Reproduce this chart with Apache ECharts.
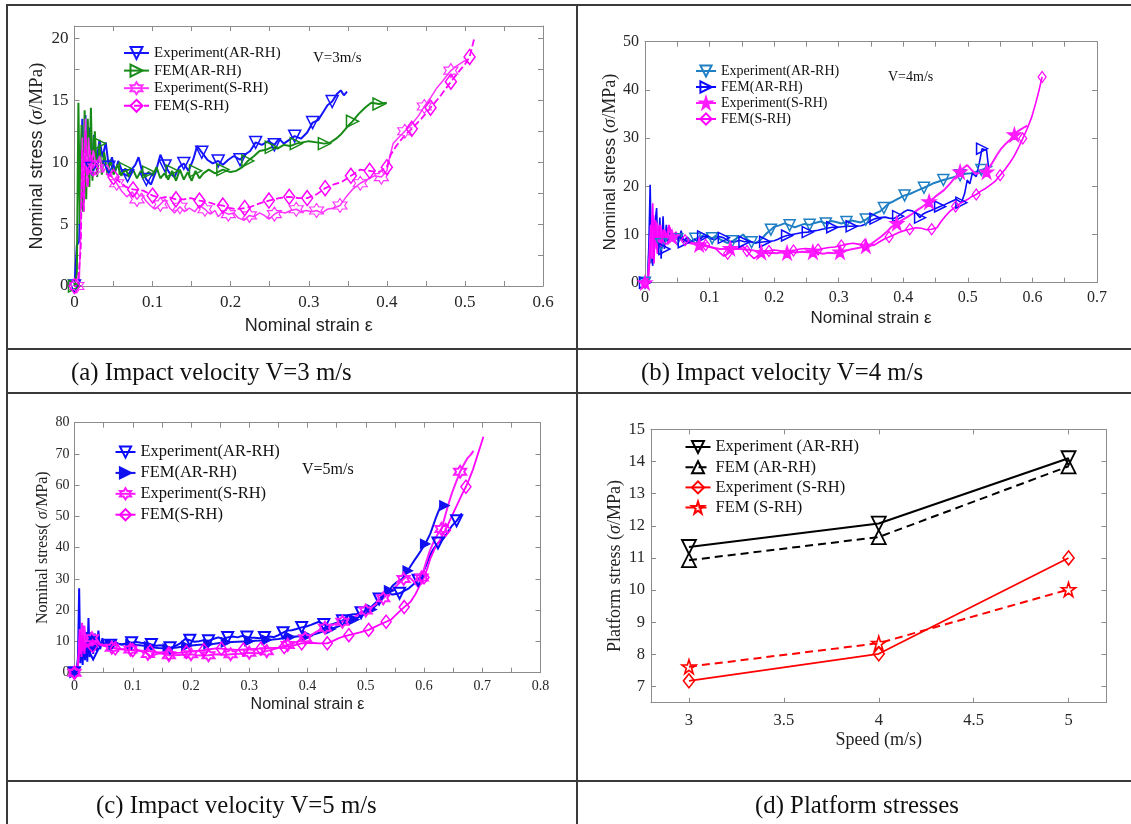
<!DOCTYPE html>
<html>
<head>
<meta charset="utf-8">
<script src="https://cdn.jsdelivr.net/npm/echarts@6/dist/echarts.min.js"></script>
<style>
body { margin: 0; background: #fff; }
.chart { position: absolute; left: 0; top: 0; width: 1131px; height: 824px; }
.ln { position: absolute; background: #3a3a3a; }
.cap { position: absolute; font-family: 'Liberation Serif'; font-size: 24.8px; color: #111; white-space: nowrap; line-height: 24px; }
</style>
</head>
<body>
<div class="ln" style="left:6px;top:4px;width:1125px;height:2px"></div>
<div class="ln" style="left:6px;top:348px;width:1125px;height:2px"></div>
<div class="ln" style="left:6px;top:392px;width:1125px;height:2px"></div>
<div class="ln" style="left:6px;top:780px;width:1125px;height:2px"></div>
<div class="ln" style="left:6px;top:4px;width:2px;height:820px"></div>
<div class="ln" style="left:576px;top:4px;width:2px;height:820px"></div>

<div class="chart" id="chartA"></div>
<div class="chart" id="chartB"></div>
<div class="chart" id="chartC"></div>
<div class="chart" id="chartD"></div>

<div class="cap" style="left:71px;top:360px">(a) Impact velocity V=3 m/s</div>
<div class="cap" style="left:641px;top:360px">(b) Impact velocity V=4 m/s</div>
<div class="cap" style="left:96px;top:793px">(c) Impact velocity V=5 m/s</div>
<div class="cap" style="left:755px;top:793px">(d) Platform stresses</div>

<script>
var SERIF = 'Liberation Serif', SANS = 'Liberation Sans';
var AXIS = '#8c8c8c';

// ---- (a) V=3 m/s : [strain, stress]
var expAR_a = [[0,0],[0.003,3.3],[0.006,3.6],[0.008,9],[0.01,13.5],[0.012,7.5],[0.014,13.8],[0.016,8.5],[0.019,12.8],[0.022,9.5],[0.025,12.2],[0.028,10],[0.032,11.8],[0.036,10.4],[0.04,11.6],[0.044,9.6],[0.048,10.4],[0.052,9.2],[0.056,10.1],[0.062,9.1],[0.068,8.9],[0.072,9.3],[0.078,9.8],[0.082,10.4],[0.086,9.4],[0.092,8.6],[0.098,8.2],[0.104,9.2],[0.11,10.6],[0.116,9.7],[0.122,9.1],[0.128,8.8],[0.134,9.6],[0.14,9.9],[0.146,9.3],[0.152,10.2],[0.157,11.3],[0.163,10.8],[0.17,10.2],[0.177,9.9],[0.184,10.1],[0.19,9.8],[0.197,10.2],[0.204,10.5],[0.212,10.2],[0.218,10.6],[0.225,10.9],[0.232,11.6],[0.24,11.4],[0.248,11.7],[0.256,11.4],[0.262,11.9],[0.268,11.5],[0.275,11.8],[0.282,12.1],[0.29,11.9],[0.298,12.4],[0.305,13.2],[0.312,13.4],[0.318,14.0],[0.324,14.6],[0.33,14.9],[0.336,15.5],[0.341,15.8],[0.345,15.4],[0.349,15.7]];
var femAR_a = [[0,0],[0.003,1],[0.005,14.8],[0.007,5],[0.009,13],[0.011,6],[0.013,14.2],[0.015,7],[0.017,13.5],[0.019,8],[0.021,14.4],[0.023,8.5],[0.026,12.5],[0.029,8.8],[0.032,11.5],[0.035,9],[0.038,10.8],[0.042,9.1],[0.046,10.2],[0.05,9],[0.055,9.8],[0.06,8.9],[0.065,9.5],[0.07,8.8],[0.075,9.4],[0.08,8.7],[0.085,9.3],[0.09,8.9],[0.095,9.2],[0.1,8.9],[0.105,9.6],[0.11,8.7],[0.115,9.1],[0.12,8.6],[0.125,9.3],[0.13,8.5],[0.135,9.4],[0.14,8.6],[0.145,9.2],[0.15,8.5],[0.155,9.3],[0.16,8.7],[0.165,9.1],[0.172,9.4],[0.18,9.1],[0.19,9.4],[0.2,9.2],[0.207,9.3],[0.215,9.6],[0.222,10.1],[0.23,10.5],[0.237,10.9],[0.245,11.0],[0.252,11.2],[0.26,11.1],[0.268,11.4],[0.276,11.3],[0.284,11.5],[0.292,11.6],[0.3,11.7],[0.31,11.6],[0.32,11.5],[0.328,11.6],[0.335,11.9],[0.342,12.3],[0.35,12.9],[0.356,13.3],[0.364,13.9],[0.372,14.4],[0.38,14.8],[0.39,14.7],[0.4,14.8]];
var expS_a = [[0.003,0],[0.006,0],[0.008,5],[0.01,12],[0.012,7],[0.014,13.5],[0.016,8],[0.018,12],[0.021,9],[0.024,11],[0.028,9.5],[0.032,10.5],[0.037,9.2],[0.042,9.8],[0.048,8.8],[0.054,8.3],[0.06,7.7],[0.067,7.2],[0.074,7.6],[0.08,7.0],[0.086,7.5],[0.091,6.9],[0.097,6.5],[0.103,6.2],[0.11,6.6],[0.116,7.0],[0.122,6.3],[0.128,5.9],[0.135,6.4],[0.141,6.0],[0.147,6.3],[0.154,6.0],[0.16,6.5],[0.167,6.2],[0.174,5.8],[0.18,6.1],[0.184,5.6],[0.19,6.0],[0.197,5.8],[0.204,5.9],[0.21,5.5],[0.217,5.3],[0.224,5.7],[0.23,5.6],[0.237,5.9],[0.243,5.7],[0.249,5.4],[0.256,5.8],[0.262,6.0],[0.27,5.9],[0.277,6.1],[0.284,6.2],[0.29,6.0],[0.297,6.1],[0.304,6.0],[0.31,6.1],[0.317,5.9],[0.324,6.2],[0.332,6.3],[0.34,6.5],[0.348,7.2],[0.356,7.8],[0.366,8.3],[0.375,8.6],[0.384,8.9],[0.393,8.8],[0.4,9.3],[0.404,10.5],[0.408,11.5],[0.415,12.0],[0.423,12.5],[0.431,13.0],[0.44,13.7],[0.448,14.5],[0.456,15.2],[0.464,16.0],[0.472,16.6],[0.482,17.4],[0.49,17.8],[0.5,18.2],[0.505,18.0]];
var femS_a = [[0,0],[0.004,0],[0.008,3],[0.01,11],[0.012,6],[0.014,12.5],[0.017,8],[0.02,11],[0.024,9.5],[0.03,10.2],[0.036,9.3],[0.042,9.0],[0.05,8.8],[0.058,8.4],[0.066,8.0],[0.075,7.8],[0.088,7.7],[0.1,7.3],[0.11,7.1],[0.119,7.2],[0.13,7.0],[0.14,7.0],[0.149,7.1],[0.16,6.9],[0.17,6.8],[0.18,6.6],[0.19,6.5],[0.198,6.3],[0.208,6.2],[0.218,6.3],[0.226,6.4],[0.238,6.7],[0.249,6.9],[0.262,7.1],[0.275,7.2],[0.287,7.1],[0.298,7.1],[0.31,7.4],[0.321,7.9],[0.332,8.2],[0.342,8.4],[0.354,8.9],[0.366,9.4],[0.378,9.3],[0.39,9.2],[0.4,9.6],[0.405,10.6],[0.412,11.3],[0.422,12.1],[0.432,12.7],[0.444,13.5],[0.456,14.4],[0.468,15.3],[0.482,16.5],[0.492,17.3],[0.5,17.9],[0.506,18.5],[0.512,20.0]];

// ---- (b) V=4 m/s
var expAR_b = [[0,0],[0.004,0.5],[0.007,8],[0.009,4],[0.011,13],[0.013,6],[0.016,12],[0.019,7],[0.022,11.5],[0.025,8],[0.028,11],[0.032,8.5],[0.036,10.5],[0.04,9],[0.045,10],[0.05,9],[0.055,9.6],[0.06,8.8],[0.066,9.3],[0.072,8.6],[0.078,9.1],[0.085,9.4],[0.092,10.0],[0.098,9.6],[0.104,9.2],[0.11,9.8],[0.116,9.0],[0.122,8.6],[0.128,8.2],[0.135,8.6],[0.142,9.2],[0.148,9.6],[0.152,10.0],[0.158,9.0],[0.165,8.4],[0.172,8.2],[0.18,9.0],[0.188,10.2],[0.195,11.0],[0.2,11.6],[0.208,11.9],[0.216,12.3],[0.224,11.9],[0.232,11.5],[0.24,11.9],[0.247,12.2],[0.255,12.0],[0.263,12.4],[0.272,12.7],[0.28,12.3],[0.288,12.8],[0.296,12.6],[0.304,12.3],[0.312,12.6],[0.32,12.9],[0.327,12.7],[0.334,12.5],[0.342,13.1],[0.35,13.8],[0.357,14.4],[0.364,14.8],[0.37,15.5],[0.377,16.4],[0.385,16.9],[0.393,17.5],[0.402,18.1],[0.41,18.4],[0.418,18.9],[0.425,19.3],[0.432,19.7],[0.44,20.2],[0.448,20.7],[0.455,21.0],[0.462,21.3],[0.47,21.6],[0.478,21.9],[0.488,22.3],[0.496,22.6],[0.505,22.7],[0.512,23.0],[0.521,23.4],[0.53,23.8],[0.538,24.2]];
var femAR_b = [[0,0],[0.004,0],[0.006,8],[0.008,20.3],[0.01,6],[0.012,3.5],[0.015,12],[0.018,15.5],[0.02,6],[0.023,13.5],[0.025,5],[0.028,13.8],[0.03,7],[0.033,12],[0.036,8],[0.04,11],[0.044,8.5],[0.048,10.5],[0.052,8.6],[0.056,10.8],[0.06,8.4],[0.065,9.5],[0.07,8.2],[0.076,9.0],[0.082,8.6],[0.09,9.6],[0.096,9.5],[0.102,9.1],[0.108,8.9],[0.115,9.6],[0.122,9.3],[0.13,8.6],[0.138,8.4],[0.146,8.8],[0.154,8.5],[0.162,8.6],[0.17,8.3],[0.178,8.4],[0.186,8.5],[0.194,8.6],[0.2,8.7],[0.206,9.0],[0.213,9.5],[0.22,9.8],[0.228,10.0],[0.236,10.2],[0.244,10.4],[0.252,10.5],[0.26,10.7],[0.268,10.9],[0.274,11.1],[0.282,11.3],[0.29,11.5],[0.298,11.5],[0.305,11.6],[0.313,11.7],[0.32,11.7],[0.327,11.75],[0.335,11.8],[0.342,12.2],[0.35,12.9],[0.357,13.3],[0.364,13.5],[0.372,13.6],[0.378,13.4],[0.385,13.3],[0.392,13.8],[0.4,14.6],[0.407,15.1],[0.414,14.9],[0.42,14.4],[0.426,13.5],[0.43,14.2],[0.436,14.6],[0.443,15.0],[0.45,15.4],[0.457,15.8],[0.464,16.2],[0.472,16.7],[0.482,17.3],[0.49,16.6],[0.495,18.5],[0.499,21.3],[0.503,20.5],[0.507,22.7],[0.513,22.0],[0.518,25.0],[0.522,27.8],[0.525,28.2],[0.529,27.5],[0.532,24.0]];
var expS_b = [[0,0],[0.004,0],[0.007,6],[0.009,12],[0.011,5],[0.013,14],[0.015,7],[0.018,12.5],[0.021,8],[0.024,12],[0.027,8.5],[0.03,11],[0.034,9],[0.038,11.5],[0.042,9.5],[0.047,9.8],[0.052,8.8],[0.058,9.2],[0.064,8.4],[0.07,8.2],[0.077,8.0],[0.084,7.9],[0.092,7.6],[0.1,7.4],[0.108,7.2],[0.116,7.0],[0.124,7.0],[0.132,7.1],[0.14,7.0],[0.148,7.0],[0.156,6.9],[0.164,6.8],[0.172,6.6],[0.18,6.3],[0.188,6.1],[0.196,6.2],[0.204,6.1],[0.212,6.3],[0.22,6.2],[0.228,6.3],[0.236,6.3],[0.244,6.4],[0.252,6.3],[0.26,6.4],[0.268,6.2],[0.276,6.0],[0.284,6.2],[0.294,6.1],[0.302,6.4],[0.31,6.6],[0.318,6.9],[0.326,7.1],[0.334,7.3],[0.342,7.6],[0.35,8.0],[0.358,8.8],[0.366,9.6],[0.374,10.5],[0.382,11.6],[0.39,12.3],[0.398,13.0],[0.406,13.6],[0.414,14.3],[0.421,15.0],[0.43,15.8],[0.44,16.8],[0.45,17.9],[0.463,19.2],[0.472,20.5],[0.48,21.8],[0.488,23.0],[0.494,23.9],[0.499,24.4],[0.505,23.5],[0.512,22.6],[0.52,22.8],[0.529,23.0],[0.537,24.7],[0.545,26.5],[0.551,27.7],[0.557,28.6],[0.565,29.6],[0.572,30.7],[0.576,31.3],[0.582,31.8],[0.588,32.3],[0.592,32.6]];
var femS_b = [[0,0],[0.005,0],[0.008,6],[0.01,11],[0.012,16.5],[0.014,4],[0.016,13],[0.019,6],[0.022,12],[0.025,7.5],[0.028,11],[0.032,9],[0.037,12],[0.042,9.6],[0.048,10.5],[0.055,9.0],[0.062,8.8],[0.07,8.4],[0.078,8.1],[0.086,7.8],[0.094,7.8],[0.102,7.4],[0.11,7.0],[0.116,6.2],[0.122,5.5],[0.128,6.0],[0.136,6.8],[0.144,7.2],[0.152,7.5],[0.158,6.6],[0.164,5.6],[0.169,5.0],[0.176,5.8],[0.184,6.4],[0.192,6.6],[0.2,6.8],[0.21,6.6],[0.22,6.5],[0.23,6.7],[0.24,7.0],[0.249,7.1],[0.258,7.0],[0.268,6.9],[0.276,7.1],[0.285,7.3],[0.294,7.4],[0.304,7.7],[0.313,8.0],[0.322,8.2],[0.33,8.0],[0.34,7.8],[0.348,7.7],[0.355,7.8],[0.362,8.4],[0.37,9.0],[0.378,9.5],[0.385,9.9],[0.393,10.4],[0.401,10.8],[0.41,11.1],[0.419,11.4],[0.428,11.3],[0.436,11.0],[0.444,11.1],[0.452,11.4],[0.458,12.6],[0.465,13.8],[0.472,14.8],[0.481,15.8],[0.49,16.6],[0.5,17.3],[0.506,17.9],[0.513,18.3],[0.52,19.0],[0.528,19.6],[0.535,20.3],[0.542,21.0],[0.55,22.3],[0.558,23.6],[0.565,24.9],[0.571,26.1],[0.578,27.9],[0.585,29.9],[0.592,32.0],[0.599,34.4],[0.605,37.2],[0.61,39.8],[0.615,42.7]];

// ---- (c) V=5 m/s
var expAR_c = [[0,0],[0.004,0.5],[0.006,5],[0.008,27],[0.01,3],[0.012,14],[0.014,2.5],[0.016,15],[0.018,4],[0.02,13],[0.022,3.5],[0.024,17.5],[0.026,5],[0.029,13],[0.032,6],[0.035,12.5],[0.038,7],[0.041,13.5],[0.044,7.5],[0.048,11],[0.052,8.5],[0.057,10.5],[0.062,8.8],[0.068,10],[0.075,9.3],[0.082,9.0],[0.09,9.4],[0.098,9.6],[0.106,9.8],[0.114,9.6],[0.12,9.5],[0.125,9.4],[0.132,9.0],[0.14,8.6],[0.148,8.8],[0.156,8.4],[0.164,8.0],[0.172,8.4],[0.18,9.2],[0.19,10.8],[0.198,10.4],[0.206,9.9],[0.214,10.1],[0.222,10.4],[0.23,10.2],[0.238,10.8],[0.247,11.3],[0.255,10.8],[0.263,11.3],[0.272,11.6],[0.28,11.3],[0.288,11.8],[0.296,11.4],[0.304,11.2],[0.309,11.2],[0.318,11.0],[0.326,11.3],[0.334,11.6],[0.342,11.4],[0.35,12.0],[0.358,12.8],[0.365,13.5],[0.373,13.6],[0.381,14.0],[0.39,14.5],[0.398,14.8],[0.406,15.3],[0.414,15.9],[0.42,16.3],[0.428,15.4],[0.436,15.2],[0.444,15.6],[0.452,16.1],[0.46,16.6],[0.468,18.2],[0.476,18.6],[0.484,18.8],[0.492,19.2],[0.5,19.8],[0.508,20.8],[0.516,22.2],[0.523,23.6],[0.53,24.9],[0.538,25.3],[0.546,25.0],[0.552,25.2],[0.558,25.4],[0.566,26.2],[0.574,27.0],[0.582,28.3],[0.59,29.6],[0.597,31.5],[0.604,34.5],[0.61,37.5],[0.617,39.8],[0.624,41.5],[0.633,42.8],[0.641,45.0],[0.648,47.0],[0.656,48.6],[0.665,51.0]];
var femAR_c = [[0,0],[0.004,0],[0.007,6],[0.009,12],[0.011,4],[0.013,11],[0.015,5],[0.018,13],[0.021,6],[0.024,11.5],[0.027,7],[0.03,11],[0.034,8],[0.038,10.5],[0.042,8.5],[0.047,10],[0.052,8.8],[0.058,9.6],[0.065,9.0],[0.072,9.3],[0.08,9.0],[0.088,9.2],[0.096,9.0],[0.104,8.9],[0.112,8.8],[0.12,8.6],[0.128,8.4],[0.136,8.1],[0.144,7.9],[0.152,7.8],[0.16,7.7],[0.168,7.9],[0.176,8.1],[0.184,8.3],[0.192,8.5],[0.2,8.7],[0.21,8.9],[0.22,9.0],[0.23,9.2],[0.24,9.3],[0.25,9.5],[0.26,9.7],[0.27,9.8],[0.28,9.9],[0.29,10.0],[0.3,10.1],[0.31,10.2],[0.32,10.3],[0.33,10.5],[0.34,10.6],[0.35,10.8],[0.36,11.1],[0.37,11.4],[0.38,11.6],[0.39,11.7],[0.4,11.8],[0.41,12.2],[0.42,12.8],[0.43,13.5],[0.44,14.0],[0.45,14.6],[0.46,15.3],[0.47,16.1],[0.48,17.0],[0.49,18.0],[0.5,19.0],[0.51,20.2],[0.518,21.6],[0.526,23.2],[0.534,24.8],[0.54,26.3],[0.546,27.8],[0.552,28.8],[0.56,29.6],[0.566,30.8],[0.572,32.6],[0.578,34.4],[0.584,36.1],[0.59,37.7],[0.596,39.4],[0.602,41.2],[0.607,43.0],[0.611,44.6],[0.616,47.2],[0.621,49.9],[0.626,52.2],[0.63,54.2],[0.635,53.5]];
var expS_c = [[0,0],[0.004,0],[0.007,5],[0.009,14],[0.011,6],[0.013,16],[0.015,7],[0.017,15],[0.02,8],[0.023,12.5],[0.026,8.5],[0.03,11],[0.034,9],[0.038,10.5],[0.043,9.2],[0.05,8.8],[0.057,8.2],[0.064,8.0],[0.072,7.8],[0.08,7.6],[0.088,7.5],[0.096,7.4],[0.104,7.3],[0.112,7.0],[0.12,6.6],[0.126,6.0],[0.131,5.1],[0.138,5.8],[0.146,6.2],[0.154,6.0],[0.162,5.6],[0.17,5.6],[0.18,5.7],[0.19,5.8],[0.2,5.9],[0.21,5.6],[0.22,5.5],[0.23,5.6],[0.24,5.8],[0.25,5.9],[0.259,5.7],[0.268,5.9],[0.276,6.0],[0.284,6.1],[0.292,6.3],[0.3,6.4],[0.308,6.3],[0.315,6.2],[0.322,6.5],[0.33,6.9],[0.338,7.3],[0.346,7.7],[0.356,8.3],[0.366,8.9],[0.376,9.5],[0.386,10.2],[0.396,11.0],[0.405,11.9],[0.413,12.8],[0.421,13.7],[0.43,14.4],[0.44,15.1],[0.45,15.7],[0.46,16.3],[0.471,16.9],[0.48,17.8],[0.49,18.8],[0.5,19.9],[0.512,21.1],[0.52,22.3],[0.53,23.8],[0.54,25.6],[0.55,27.3],[0.558,28.8],[0.565,30.0],[0.571,30.7],[0.577,30.2],[0.583,29.0],[0.59,27.5],[0.596,30.5],[0.603,35.0],[0.61,39.0],[0.618,42.5],[0.624,44.5],[0.63,46.0],[0.636,50.0],[0.642,54.0],[0.648,57.5],[0.655,61.0],[0.662,64.3],[0.668,66.5],[0.674,68.5],[0.68,69.7],[0.685,71.0]];
var femS_c = [[0,0],[0.005,0],[0.008,8],[0.01,13],[0.012,5],[0.014,12],[0.017,6],[0.02,11.5],[0.023,7.5],[0.027,10.5],[0.031,8.5],[0.036,10],[0.042,9],[0.05,8.6],[0.06,8.2],[0.07,7.8],[0.08,7.5],[0.09,7.3],[0.1,7.2],[0.11,7.1],[0.12,7.0],[0.13,6.8],[0.14,6.6],[0.15,6.4],[0.162,6.2],[0.172,6.3],[0.182,6.4],[0.192,6.6],[0.202,6.8],[0.212,7.0],[0.222,7.2],[0.232,7.5],[0.243,7.8],[0.252,7.7],[0.262,7.5],[0.272,7.4],[0.281,7.3],[0.29,7.4],[0.3,7.5],[0.31,7.6],[0.32,7.7],[0.33,7.8],[0.34,7.9],[0.35,8.0],[0.36,8.2],[0.37,8.5],[0.38,8.9],[0.39,9.4],[0.4,9.5],[0.41,9.5],[0.42,9.4],[0.434,9.4],[0.444,10.2],[0.452,10.9],[0.46,11.5],[0.471,12.0],[0.48,12.4],[0.49,12.9],[0.505,13.7],[0.515,14.6],[0.525,15.5],[0.535,16.3],[0.543,16.9],[0.55,18.2],[0.558,19.6],[0.566,21.0],[0.577,22.7],[0.585,25.0],[0.593,28.0],[0.6,30.5],[0.606,33.5],[0.611,36.6],[0.618,39.5],[0.626,42.0],[0.637,45.7],[0.645,49.0],[0.655,53.0],[0.665,57.0],[0.672,59.5],[0.677,61.7],[0.684,65.0],[0.69,68.5],[0.696,72.0],[0.702,75.5]];

// ---- (d) platform stresses
var speeds = [3, 4, 5];
var platExpAR = [11.34, 12.07, 14.1];
var platFemAR = [10.93, 11.65, 13.85];
var platExpS = [7.18, 8.02, 11.0];
var platFemS = [7.62, 8.35, 10.02];

// tick lists
var ticksA_x = [0,0.05,0.1,0.15,0.2,0.25,0.3,0.35,0.4,0.45,0.5,0.55,0.6];
var labelsA_x = [0,0.1,0.2,0.3,0.4,0.5,0.6];
var ticksA_y = [0,2.5,5,7.5,10,12.5,15,17.5,20];
var labelsA_y = [0,5,10,15,20];
var ticksB_x = [0,0.05,0.1,0.15,0.2,0.25,0.3,0.35,0.4,0.45,0.5,0.55,0.6,0.65,0.7];
var labelsB_x = [0,0.1,0.2,0.3,0.4,0.5,0.6,0.7];
var labelsB_y = [0,10,20,30,40,50];
var ticksC_x = [0,0.05,0.1,0.15,0.2,0.25,0.3,0.35,0.4,0.45,0.5,0.55,0.6,0.65,0.7,0.75,0.8];
var labelsC_x = [0,0.1,0.2,0.3,0.4,0.5,0.6,0.7,0.8];
var labelsC_y = [0,10,20,30,40,50,60,70,80];
var labelsD_x = [3,3.5,4,4.5,5];
var labelsD_y = [7,8,9,10,11,12,13,14,15];

var HEX = 'path://M50,0 L64,25 L93,25 L79,50 L93,75 L64,75 L50,100 L36,75 L7,75 L21,50 L7,25 L36,25 Z';
var PENT = 'path://M50,2 L61,37 L98,37 L68,59 L79,95 L50,73 L21,95 L32,59 L2,37 L39,37 Z';

function markEvery(data, step) {
    var last = -Infinity;
    return data.map(function(p) {
        if (p[0] - last >= step) { last = p[0]; return p; }
        return { value: p, symbol: 'none' };
    });
}

function mkLine(name, data, o) {
    return {
        type: 'line', name: name,
        data: o.step ? markEvery(data, o.step) : data,
        symbol: o.symbol, symbolSize: o.size, symbolRotate: o.rot || 0,
        showSymbol: true, animation: false, silent: true,
        lineStyle: { color: o.color, width: o.lw || 1.8, type: o.dash || 'solid' },
        itemStyle: { color: o.fill || 'rgba(255,255,255,0)', borderColor: o.color, borderWidth: o.bw || 1.5 }
    };
}

function axis(min, max, ticks, labels, pos, fs, show) {
    return {
        type: 'value', min: min, max: max, position: pos,
        axisLine: { show: true, onZero: false, lineStyle: { color: AXIS, width: 1 } },
        axisTick: { show: true, inside: true, length: 5, customValues: ticks, lineStyle: { color: AXIS } },
        axisLabel: { show: show, customValues: labels, margin: 8, color: '#262626', fontFamily: SERIF, fontSize: fs },
        splitLine: { show: false }
    };
}

function legendFor(left, top, fs, iw, ih, gap, names) {
    return {
        orient: 'vertical', left: left, top: top, padding: 0,
        itemWidth: iw, itemHeight: ih, itemGap: gap, selectedMode: false,
        textStyle: { fontFamily: SERIF, fontSize: fs, color: '#111', lineHeight: fs },
        data: names
    };
}

function note(x, y, txt, fs) {
    return { type: 'text', left: x, top: y, silent: true,
             style: { text: txt, font: fs + 'px "Liberation Serif"', fill: '#111' } };
}

// ---------- panel (a)
var chartA = echarts.init(document.getElementById('chartA'));
var xa = axis(0, 0.6, ticksA_x, labelsA_x, 'bottom', 17, true);
xa.name = 'Nominal strain ε';
xa.nameLocation = 'middle'; xa.nameGap = 31;
xa.nameTextStyle = { fontFamily: SANS, fontSize: 18, color: '#222' };
var ya = axis(0, 21, ticksA_y, labelsA_y, 'left', 17, true);
ya.axisLabel.margin = 6;
ya.name = '{a|Nominal stress (}{s|σ}{b|/MPa)}';
ya.nameLocation = 'middle'; ya.nameGap = 28;
ya.nameTextStyle = { color: '#222', rich: {
    a: { fontFamily: SANS, fontSize: 18, color: '#222' },
    s: { fontFamily: SERIF, fontStyle: 'italic', fontSize: 19, color: '#222' },
    b: { fontFamily: SERIF, fontSize: 19, color: '#222' } } };
chartA.setOption({
    animation: false,
    grid: { left: 74.5, top: 26, width: 468.5, height: 260 },
    xAxis: [xa, axis(0, 0.6, ticksA_x, [], 'top', 17, false)],
    yAxis: [ya, axis(0, 21, ticksA_y, [], 'right', 17, false)],
    legend: legendFor(123, 45.5, 15, 25, 15, 2.6, ['Experiment(AR-RH)', 'FEM(AR-RH)', 'Experiment(S-RH)', 'FEM(S-RH)']),
    graphic: [note(313, 51, 'V=3m/s', 15)],
    series: [
        mkLine('Experiment(AR-RH)', expAR_a, { color: '#1414ff', symbol: 'triangle', rot: 180, size: 12, step: 0.02, lw: 2 }),
        mkLine('FEM(AR-RH)', femAR_a, { color: '#178a17', symbol: 'triangle', rot: -90, size: 12, step: 0.03, lw: 2 }),
        mkLine('Experiment(S-RH)', expS_a, { color: '#ff33ff', symbol: HEX, size: 14, step: 0.025, lw: 1.5, bw: 1.2 }),
        mkLine('FEM(S-RH)', femS_a, { color: '#ff00ff', symbol: 'diamond', size: [11, 15], step: 0.022, lw: 1.8, dash: [7, 3] })
    ]
});

// ---------- panel (b)
var chartB = echarts.init(document.getElementById('chartB'));
var xb = axis(0, 0.7, ticksB_x, labelsB_x, 'bottom', 16, true);
xb.axisLabel.margin = 7;
xb.name = 'Nominal strain ε';
xb.nameLocation = 'middle'; xb.nameGap = 27;
xb.nameTextStyle = { fontFamily: SANS, fontSize: 17, color: '#222' };
var yb = axis(0, 50, labelsB_y, labelsB_y, 'left', 16, true);
yb.axisLabel.margin = 6;
yb.name = '{a|Nominal stress (}{s|σ}{b|/MPa)}';
yb.nameLocation = 'middle'; yb.nameGap = 25;
yb.nameTextStyle = { color: '#222', rich: {
    a: { fontFamily: SANS, fontSize: 17, color: '#222' },
    s: { fontFamily: SERIF, fontStyle: 'italic', fontSize: 18, color: '#222' },
    b: { fontFamily: SERIF, fontSize: 18, color: '#222' } } };
chartB.setOption({
    animation: false,
    grid: { left: 645, top: 41.7, width: 452, height: 241 },
    xAxis: [xb, axis(0, 0.7, ticksB_x, [], 'top', 16, false)],
    yAxis: [yb, axis(0, 50, labelsB_y, [], 'right', 16, false)],
    legend: legendFor(695, 64, 14, 20, 14, 2, ['Experiment(AR-RH)', 'FEM(AR-RH)', 'Experiment(S-RH)', 'FEM(S-RH)']),
    graphic: [note(888, 70, 'V=4m/s', 14)],
    series: [
        mkLine('Experiment(AR-RH)', expAR_b, { color: '#1f7fc4', symbol: 'triangle', rot: 180, size: 11, step: 0.025, lw: 2 }),
        mkLine('FEM(AR-RH)', femAR_b, { color: '#0a0aff', symbol: 'triangle', rot: -90, size: 11, step: 0.03, lw: 1.6 }),
        mkLine('Experiment(S-RH)', expS_b, { color: '#ff1aff', fill: '#ff1aff', symbol: PENT, size: 13, step: 0.04, lw: 2 }),
        mkLine('FEM(S-RH)', femS_b, { color: '#ff00ff', symbol: 'diamond', size: [8, 11], step: 0.03, lw: 1.6, bw: 1.2 })
    ]
});

// ---------- panel (c)
var chartC = echarts.init(document.getElementById('chartC'));
var xc = axis(0, 0.8, ticksC_x, labelsC_x, 'bottom', 14, true);
xc.axisLabel.margin = 7;
xc.name = 'Nominal strain ε';
xc.nameLocation = 'middle'; xc.nameGap = 24;
xc.nameTextStyle = { fontFamily: SANS, fontSize: 16, color: '#222' };
var yc = axis(0, 80, labelsC_y, labelsC_y, 'left', 14, true);
yc.axisLabel.margin = 5;
yc.name = '{a|Nominal stress( }{s|σ}{b|/MPa)}';
yc.nameLocation = 'middle'; yc.nameGap = 24;
yc.nameTextStyle = { color: '#222', rich: {
    a: { fontFamily: SERIF, fontSize: 16, color: '#222' },
    s: { fontFamily: SERIF, fontStyle: 'italic', fontSize: 16, color: '#222' },
    b: { fontFamily: SERIF, fontSize: 16, color: '#222' } } };
chartC.setOption({
    animation: false,
    grid: { left: 74.5, top: 422.7, width: 466, height: 250 },
    xAxis: [xc, axis(0, 0.8, ticksC_x, [], 'top', 14, false)],
    yAxis: [yc, axis(0, 80, labelsC_y, [], 'right', 14, false)],
    legend: legendFor(114.5, 443.5, 16.5, 20, 14, 3.9, ['Experiment(AR-RH)', 'FEM(AR-RH)', 'Experiment(S-RH)', 'FEM(S-RH)']),
    graphic: [note(302, 462, 'V=5m/s', 16)],
    series: [
        mkLine('Experiment(AR-RH)', expAR_c, { color: '#0a0aff', symbol: 'triangle', rot: 180, size: 11, step: 0.03, lw: 2, bw: 2 }),
        mkLine('FEM(AR-RH)', femAR_c, { color: '#1010f0', fill: '#1010f0', symbol: 'triangle', rot: -90, size: 9, step: 0.03, lw: 2 }),
        mkLine('Experiment(S-RH)', expS_c, { color: '#ff1aff', symbol: HEX, size: 12, step: 0.03, lw: 2, bw: 2 }),
        mkLine('FEM(S-RH)', femS_c, { color: '#ff00ff', symbol: 'diamond', size: [10, 13], step: 0.03, lw: 1.8 })
    ]
});

// ---------- panel (d)
var chartD = echarts.init(document.getElementById('chartD'));
var xd = axis(2.8, 5.2, labelsD_x, labelsD_x, 'bottom', 16.5, true);
xd.axisLabel.margin = 9;
xd.name = 'Speed (m/s)';
xd.nameLocation = 'middle'; xd.nameGap = 29;
xd.nameTextStyle = { fontFamily: SERIF, fontSize: 18, color: '#222' };
var yd = axis(6.5, 15, labelsD_y, labelsD_y, 'left', 16.5, true);
yd.axisLabel.margin = 6;
yd.name = '{a|Platform stress (}{s|σ}{a|/MPa)}';
yd.nameLocation = 'middle'; yd.nameGap = 27;
yd.nameTextStyle = { color: '#222', rich: {
    a: { fontFamily: SERIF, fontSize: 18, color: '#222' },
    s: { fontFamily: SERIF, fontStyle: 'italic', fontSize: 18, color: '#222' } } };
function pairs(xs, ys) { return xs.map(function(x, i) { return [x, ys[i]]; }); }
chartD.setOption({
    animation: false,
    grid: { left: 651, top: 429.3, width: 455.5, height: 273.4 },
    xAxis: [xd, axis(2.8, 5.2, labelsD_x, [], 'top', 16, false)],
    yAxis: [yd, axis(6.5, 15, labelsD_y, [], 'right', 16, false)],
    legend: legendFor(684.5, 438.5, 16.5, 25, 15, 3.2, ['Experiment (AR-RH)', 'FEM (AR-RH)', 'Experiment (S-RH)', 'FEM (S-RH)']),
    series: [
        mkLine('Experiment (AR-RH)', pairs(speeds, platExpAR), { color: '#000', symbol: 'triangle', rot: 180, size: 14, lw: 2, bw: 1.8 }),
        mkLine('FEM (AR-RH)', pairs(speeds, platFemAR), { color: '#000', symbol: 'triangle', size: 14, lw: 2, bw: 1.8, dash: [8, 5] }),
        mkLine('Experiment (S-RH)', pairs(speeds, platExpS), { color: '#ff0000', symbol: 'diamond', size: [11, 14], lw: 1.8, bw: 1.6 }),
        mkLine('FEM (S-RH)', pairs(speeds, platFemS), { color: '#ff0000', symbol: PENT, size: 14, lw: 2, bw: 1.6, dash: [8, 5] })
    ]
});
</script>
</body>
</html>
